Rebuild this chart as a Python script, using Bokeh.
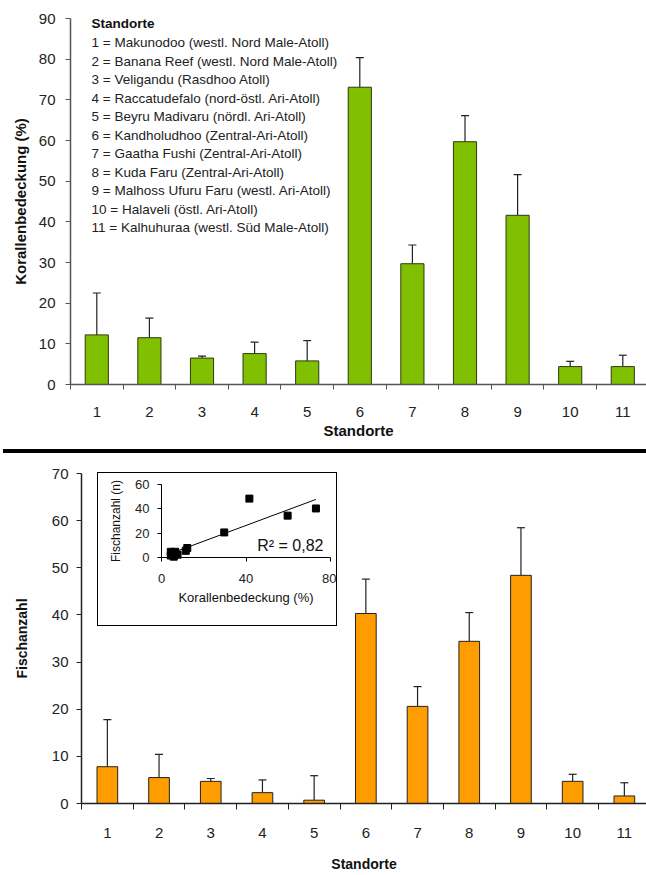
from bokeh.plotting import figure
from bokeh.models import (FixedTicker, Whisker, TeeHead, ColumnDataSource, Div,
                          Range1d)
from bokeh.layouts import column
from bokeh.core.properties import value
from bokeh.embed import file_html
from bokeh.resources import INLINE
import numpy as np

# ---------------- data ----------------
sites = [1, 2, 3, 4, 5, 6, 7, 8, 9, 10, 11]
coral_mean = [12.2, 11.5, 6.5, 7.6, 5.8, 73.1, 29.7, 59.7, 41.6, 4.4, 4.4]
coral_upper = [22.5, 16.3, 7.0, 10.4, 10.8, 80.4, 34.3, 66.1, 51.6, 5.7, 7.2]
fish_mean = [7.8, 5.5, 4.7, 2.3, 0.7, 40.3, 20.6, 34.4, 48.4, 4.7, 1.6]
fish_upper = [17.8, 10.4, 5.3, 5.0, 5.9, 47.6, 24.8, 40.5, 58.5, 6.2, 4.4]

legend_title = "Standorte"
legend_lines = [
    "1 = Makunodoo (westl. Nord Male-Atoll)",
    "2 = Banana Reef (westl. Nord Male-Atoll)",
    "3 = Veligandu (Rasdhoo Atoll)",
    "4 = Raccatudefalo (nord-östl. Ari-Atoll)",
    "5 = Beyru Madivaru (nördl. Ari-Atoll)",
    "6 = Kandholudhoo (Zentral-Ari-Atoll)",
    "7 = Gaatha Fushi (Zentral-Ari-Atoll)",
    "8 = Kuda Faru (Zentral-Ari-Atoll)",
    "9 = Malhoss Ufuru Faru (westl. Ari-Atoll)",
    "10 = Halaveli (östl. Ari-Atoll)",
    "11 = Kalhuhuraa (westl. Süd Male-Atoll)",
]
top_xlabel = "Standorte"
top_ylabel = "Korallenbedeckung (%)"
bot_xlabel = "Standorte"
bot_ylabel = "Fischanzahl"
inset_xlabel = "Korallenbedeckung (%)"
inset_ylabel = "Fischanzahl (n)"
r2_text = "R² = 0,82"

FONT = "Liberation Sans"
GREEN = "#80C000"
ORANGE = "#FF9C00"


def make_fig(w, h, xr, yr, margin):
    # the frame fills the whole canvas; axes sit at fixed data positions
    p = figure(width=w, height=h, output_backend="svg", toolbar_location=None,
               x_range=Range1d(*xr), y_range=Range1d(*yr),
               min_border_left=0, min_border_right=0, min_border_top=0,
               min_border_bottom=0, margin=margin)
    p.xgrid.visible = False
    p.ygrid.visible = False
    p.outline_line_color = None
    p.background_fill_color = "white"
    p.border_fill_color = "white"
    return p


def setup_axis(ax, ticks, color, tick_out, standoff, label, label_size,
               label_standoff, bold=True, size="15px", width=1.5,
               minor=None, loc=0, bounds=None):
    ax.fixed_location = loc
    if bounds is not None:
        ax.bounds = bounds
    if minor is None:
        ax.ticker = FixedTicker(ticks=ticks)
        ax.minor_tick_line_color = None
        ax.major_tick_out = tick_out
        ax.major_tick_line_color = color
    else:
        ax.ticker = FixedTicker(ticks=ticks, minor_ticks=minor)
        ax.major_tick_line_color = None
        ax.major_tick_out = 0
        ax.minor_tick_in = 0
        ax.minor_tick_out = tick_out
        ax.minor_tick_line_color = color
    ax.major_tick_in = 0
    ax.axis_line_color = color
    ax.axis_line_width = width
    ax.major_label_text_font = FONT
    ax.major_label_text_font_size = size
    ax.major_label_text_color = "#222222"
    ax.major_label_standoff = standoff
    ax.axis_label = label
    ax.axis_label_text_font = FONT
    ax.axis_label_text_font_size = label_size
    ax.axis_label_text_font_style = "bold" if bold else "normal"
    ax.axis_label_text_color = "#111111"
    ax.axis_label_standoff = label_standoff


site_bounds = [s - 0.5 for s in sites] + [11.5]

# ---------------- top chart ----------------
# pixel layout: y axis at x=70, 52.6 px per site; 0 at y=384, 90 at y=18
TPX, TPY = 52.6, 366 / 90
top = make_fig(646, 449, (0.5 - 70 / TPX, 0.5 + 576 / TPX),
               (-65 / TPY, 90 + 18 / TPY), 0)
src_c = ColumnDataSource(dict(x=sites, mean=coral_mean, upper=coral_upper))
top.vbar(x="x", top="mean", width=0.44, source=src_c, fill_color=GREEN,
         line_color="#2a3a10", line_width=1)
top.add_layout(Whisker(source=src_c, base="x", lower="mean", upper="upper",
                       line_color="#222222", line_width=1.2,
                       upper_head=TeeHead(size=8, line_color="#222222", line_width=1.2),
                       lower_head=None))
setup_axis(top.xaxis[0], sites, "#555555", 5, 17, top_xlabel, "15px", 2,
           minor=site_bounds, loc=0, bounds=(0.5, 11.6))
setup_axis(top.yaxis[0], list(range(0, 91, 10)), "#555555", 5, 10, top_ylabel,
           "15px", 7, loc=0.5, bounds=(0, 90))

# legend text block
lx = 0.9
ly0 = 84.1
lstep = 4.56
top.text(x=[lx], y=[88.8], text=[legend_title], text_font=value(FONT),
         text_font_size="13.5px", text_font_style="bold", text_baseline="middle",
         text_color="#111111")
src_l = ColumnDataSource(dict(x=[lx] * len(legend_lines),
                              y=[ly0 - i * lstep for i in range(len(legend_lines))],
                              t=legend_lines))
top.text(x="x", y="y", text="t", source=src_l, text_font=value(FONT),
         text_font_size="13.5px", text_baseline="middle", text_color="#222222")

# ---------------- separator ----------------
sep = Div(width=643, height=4, margin=(0, 0, 0, 3),
          styles={"background-color": "black"})

# ---------------- bottom chart ----------------
# pixel layout (figure starts at y=453): y axis at x=81, 51.7 px per site;
# 0 at y=803, 70 at y=473
BPX, BPY = 51.7, 330 / 70
bot = make_fig(646, 422, (0.5 - 81 / BPX, 0.5 + 565 / BPX),
               (-72 / BPY, 70 + 20 / BPY), 0)
src_f = ColumnDataSource(dict(x=sites, mean=fish_mean, upper=fish_upper))
bot.vbar(x="x", top="mean", width=0.4, source=src_f, fill_color=ORANGE,
         line_color="#222222", line_width=1)
bot.add_layout(Whisker(source=src_f, base="x", lower="mean", upper="upper",
                       line_color="#222222", line_width=1.2,
                       upper_head=TeeHead(size=8, line_color="#222222", line_width=1.2),
                       lower_head=None))
setup_axis(bot.xaxis[0], sites, "#222222", 6, 18, bot_xlabel, "14px", 15,
           minor=site_bounds, loc=0, bounds=(0.5, 11.6))
setup_axis(bot.yaxis[0], list(range(0, 71, 10)), "#222222", 5, 8, bot_ylabel,
           "14px", 19, loc=0.5, bounds=(0, 70))

# ---------------- inset ----------------
box = Div(width=240, height=154, margin=(-403, 0, 0, 97),
          styles={"border": "1px solid black", "box-sizing": "border-box",
                  "background-color": "white"})

# inset figure 238x152 at (98,473): x 0 at +63 px, 80 at +232 px;
# y 60 at +11 px, 0 at +84 px
IPX, IPY = 169 / 80, 73 / 60
inset = make_fig(238, 152, (-63 / IPX, 80 + 6 / IPX), (-68 / IPY, 60 + 11 / IPY),
                 (-153, 0, 250, 98))
inset.scatter(x=coral_mean, y=fish_mean, marker="square", size=7,
              fill_color="black", line_color="black")
slope, icpt = np.polyfit(coral_mean, fish_mean, 1)
xs = [min(coral_mean), max(coral_mean)]
inset.line(x=xs, y=[slope * v + icpt for v in xs], line_color="black", line_width=1)
inset.text(x=[61], y=[10], text=[r2_text], text_font=value(FONT),
           text_font_size="16px", text_align="center", text_baseline="middle",
           text_color="#111111")
setup_axis(inset.xaxis[0], [0, 40, 80], "black", 4, 12, inset_xlabel, "13px", 4,
           bold=False, size="13px", width=1, loc=0, bounds=(0, 80))
setup_axis(inset.yaxis[0], [0, 20, 40, 60], "black", 4, 8, inset_ylabel, "12px", 9,
           bold=False, size="13px", width=1, loc=0, bounds=(0, 60))

layout = column(top, sep, bot, box, inset, spacing=0)

open("out.html", "w").write(file_html(layout, INLINE))
